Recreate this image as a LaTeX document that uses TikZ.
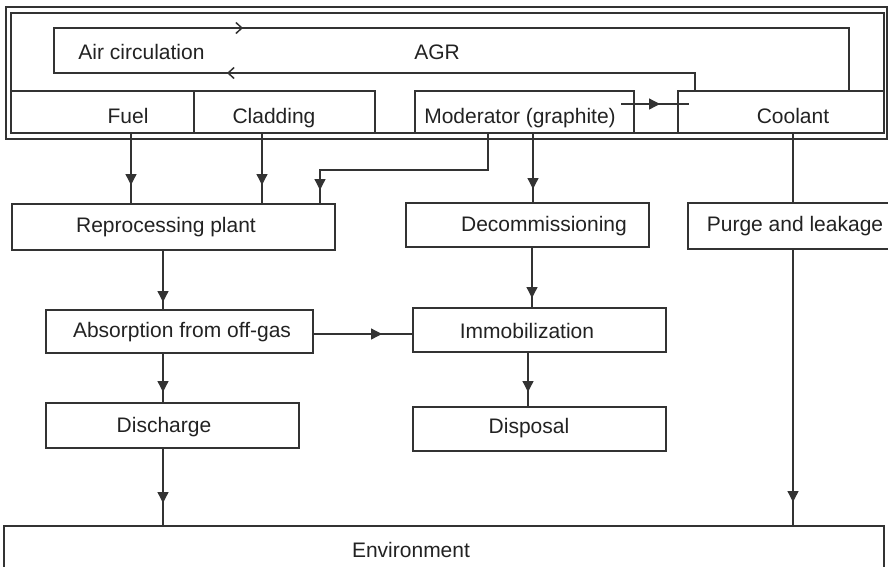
\documentclass[tikz,border=0pt]{standalone}
\usepackage{fontspec}
\setmainfont{Liberation Sans}
\usetikzlibrary{arrows.meta,calc}
\definecolor{ln}{HTML}{333333}
\definecolor{tx}{HTML}{222222}
\begin{document}
\begin{tikzpicture}[x=1pt,y=-1pt,
  box/.style={draw=ln, rectangle, line width=1.3pt, inner sep=0pt, outer sep=0pt},
  txt/.style={font=\fontsize{21}{24}\selectfont, text=tx, inner sep=0pt},
  flow/.style={color=ln, line width=1.3pt},
  tipseg/.style={color=ln, line width=1.3pt, -{Triangle[width=11pt,length=11pt]}},
  barbseg/.style={color=ln, line width=1.5pt, -{Straight Barb[width=11pt,length=6pt]}}]
\useasboundingbox (0,0) rectangle (888,566);
\clip (0,0) rectangle (888,566);

% reactor frame (double line)
\draw[flow] (6,7) rectangle (887,139);
\draw[flow] (11,13) rectangle (884,133);

% component boxes
\node[box, minimum width=183, minimum height=42] (fuel) at (102.5,112) {};
\node[box, minimum width=181, minimum height=42] (clad) at (284.5,112) {};
\node[box, minimum width=219, minimum height=42] (mod)  at (524.5,112) {};
\node[box, minimum width=206, minimum height=42] (cool) at (781,112) {};
\node[txt, anchor=base] (tfuel) at (128,123) {Fuel};
\node[txt, anchor=base] (tclad) at (274,123) {Cladding};
\node[txt, anchor=base] (tmod)  at (520,123) {Moderator (graphite)};
\node[txt, anchor=base] (tcool) at (793,123) {Coolant};

% air circulation loop
\draw[flow]
  ([xshift=17pt]cool.north west) -- (695,73) -- (54,73) -- (54,28) -- (849,28)
  -- ([xshift=171pt]cool.north west);
\draw[barbseg] (235,28) -- (243,28);
\draw[barbseg] (235,73) -- (227,73);
\node[txt, anchor=base] (tair) at (141.5,59.5) {Air circulation};
\node[txt, anchor=base] (tagr) at (437,59.5) {AGR};

% moderator -> coolant
\draw[flow] ([shift={(-13,-8)}]mod.east) -- ([shift={(11,-8)}]cool.west);
\draw[tipseg] ($(cool.west)+(-29,-8)$) -- ($(cool.west)+(-18,-8)$);

% process boxes
\node[box, minimum width=323, minimum height=46] (rp)   at (173.5,227) {};
\node[box, minimum width=243, minimum height=44] (dec)  at (527.5,225) {};
\node[box, minimum width=210, minimum height=46] (pur)  at (793,226) {};
\node[box, minimum width=267, minimum height=43] (abs)  at (179.5,331.5) {};
\node[box, minimum width=253, minimum height=44] (imm)  at (539.5,330) {};
\node[box, minimum width=253, minimum height=45] (dis)  at (172.5,425.5) {};
\node[box, minimum width=253, minimum height=44] (disp) at (539.5,429) {};
\node[box, minimum width=880, minimum height=60] (env)  at (444,556) {};

\node[txt] (trp)   at (166,227) {Reprocessing plant};
\node[txt] (tdec)  at (544,226) {Decommissioning};
\node[txt] (tpur)  at (795,226) {Purge and leakage};
\node[txt] (tabs)  at (182,332) {Absorption from off-gas};
\node[txt] (timm)  at (527,331) {Immobilization};
\node[txt] (tdis)  at (164,427) {Discharge};
\node[txt] (tdisp) at (529,428) {Disposal};
\node[txt] (tenv)  at (411,550) {Environment};

% x positions of the vertical connectors
\coordinate (xf) at (131,0);
\coordinate (xc) at (262,0);
\coordinate (xm) at (488,0);
\coordinate (xr) at (320,0);
\coordinate (xd) at (533,0);
\coordinate (xd2) at (532,0);
\coordinate (xk) at (793,0);
\coordinate (xl) at (163,0);
\coordinate (xi) at (528,0);
\coordinate (ym) at (0,170);
\coordinate (ya) at (0,334);

% connectors
\draw[flow] (fuel.south -| xf) -- (rp.north -| xf);
\draw[tipseg] ($(rp.north -| xf)+(0,-30)$) -- ($(rp.north -| xf)+(0,-19)$);
\draw[flow] (clad.south -| xc) -- (rp.north -| xc);
\draw[tipseg] ($(rp.north -| xc)+(0,-30)$) -- ($(rp.north -| xc)+(0,-19)$);
\draw[flow] (mod.south -| xm) -- (xm |- ym) -- (xr |- ym) -- (rp.north -| xr);
\draw[tipseg] ($(rp.north -| xr)+(0,-25)$) -- ($(rp.north -| xr)+(0,-14)$);
\draw[flow] (mod.south -| xd) -- (dec.north -| xd);
\draw[tipseg] ($(dec.north -| xd)+(0,-25)$) -- ($(dec.north -| xd)+(0,-14)$);
\draw[flow] (cool.south -| xk) -- (pur.north -| xk);
\draw[flow] (pur.south -| xk) -- (env.north -| xk);
\draw[tipseg] ($(env.north -| xk)+(0,-35)$) -- ($(env.north -| xk)+(0,-24)$);
\draw[flow] (rp.south -| xl) -- (abs.north -| xl);
\draw[tipseg] ($(abs.north -| xl)+(0,-19)$) -- ($(abs.north -| xl)+(0,-8)$);
\draw[flow] (dec.south -| xd2) -- (imm.north -| xd2);
\draw[tipseg] ($(imm.north -| xd2)+(0,-21)$) -- ($(imm.north -| xd2)+(0,-10)$);
\draw[flow] (abs.east |- ya) -- (imm.west |- ya);
\draw[tipseg] ($(imm.west |- ya)+(-42,0)$) -- ($(imm.west |- ya)+(-31,0)$);
\draw[flow] (abs.south -| xl) -- (dis.north -| xl);
\draw[tipseg] ($(dis.north -| xl)+(0,-22)$) -- ($(dis.north -| xl)+(0,-11)$);
\draw[flow] (imm.south -| xi) -- (disp.north -| xi);
\draw[tipseg] ($(disp.north -| xi)+(0,-26)$) -- ($(disp.north -| xi)+(0,-15)$);
\draw[flow] (dis.south -| xl) -- (env.north -| xl);
\draw[tipseg] ($(env.north -| xl)+(0,-34)$) -- ($(env.north -| xl)+(0,-23)$);
\end{tikzpicture}
\end{document}
